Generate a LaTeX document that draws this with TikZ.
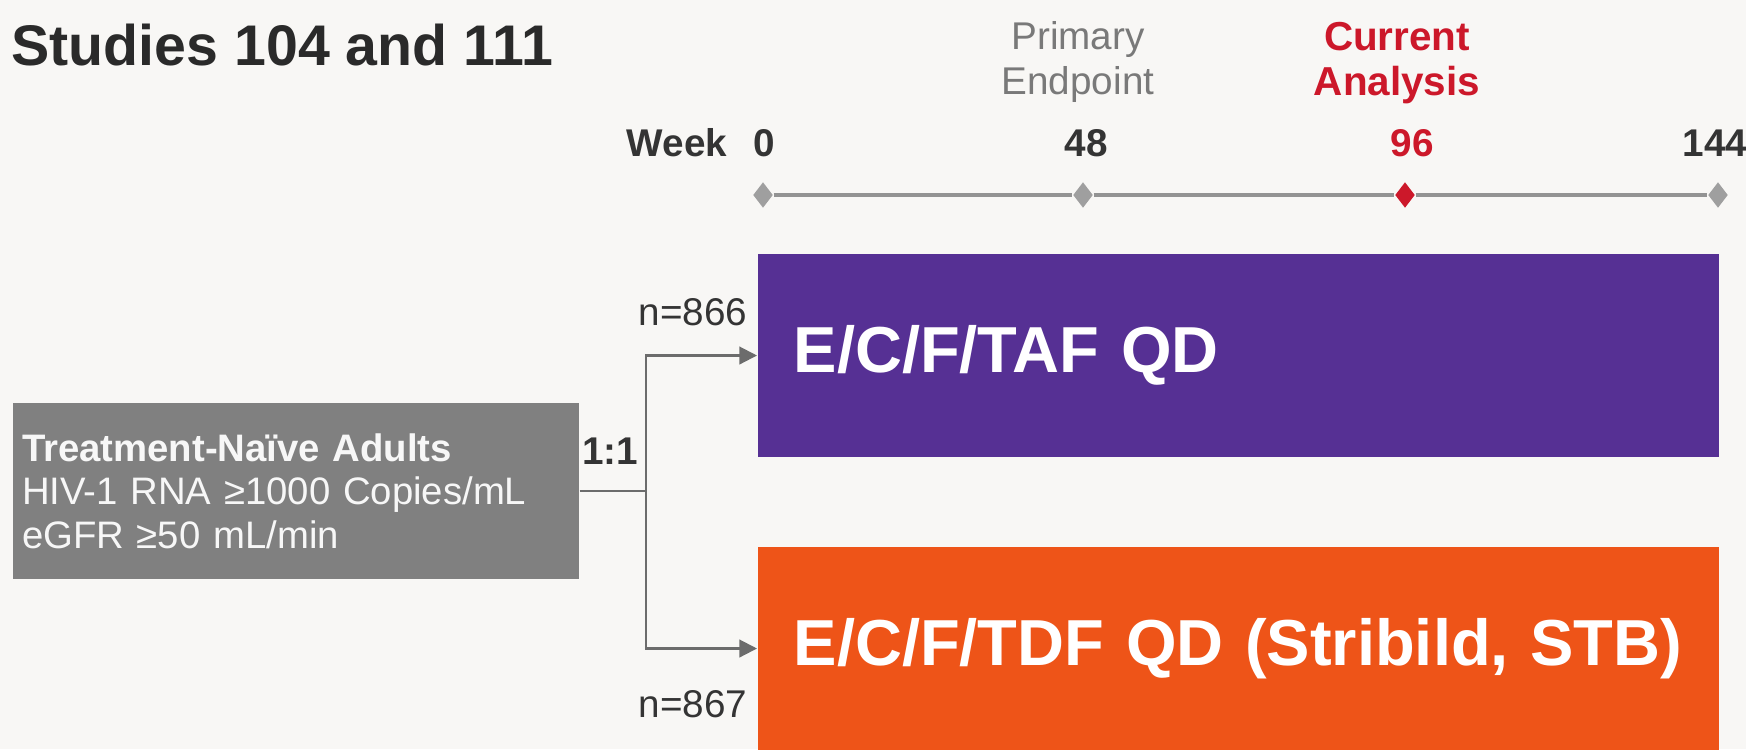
\documentclass[tikz,border=0pt]{standalone}
\usepackage{fontspec}
\setmainfont{Liberation Sans}
\usepackage{tikz}
\usetikzlibrary{shapes.geometric,arrows.meta}
\definecolor{armpurple}{RGB}{86,48,148}
\definecolor{armorange}{RGB}{238,84,24}
\definecolor{boxgray}{RGB}{128,128,128}
\definecolor{markred}{RGB}{204,24,42}
\definecolor{labelgray}{RGB}{52,52,52}
\definecolor{paper}{RGB}{248,247,245}

\begin{document}
\begin{tikzpicture}[
    arm/.style={rectangle, anchor=west, text=white, font=\fontsize{18.5}{22}\selectfont\bfseries,
                minimum height=2.03cm, inner xsep=0.36cm, text width=8.89cm, align=left},
    pop/.style={rectangle, fill=boxgray, text=white!94!gray, inner xsep=0.09cm,
                minimum height=1.76cm, text width=5.48cm, align=left,
                font=\fontsize{10.9}{12.4}\selectfont},
    tick/.style={diamond, fill=gray!75, minimum width=0.2cm, minimum height=0.26cm, inner sep=0pt},
    week/.style={font=\fontsize{11}{13}\selectfont\bfseries, text=labelgray},
    nlabel/.style={font=\fontsize{11}{13}\selectfont, text=labelgray},
    arrow/.style={-{Triangle[width=5pt,length=5pt]}, draw=gray!85!black, line width=0.6pt}
]
\fill[paper] (0,0) rectangle (17.46,7.49);
\useasboundingbox (0,0) rectangle (17.46,7.49);

% Title
\node[anchor=base west, font=\fontsize{16.3}{19}\selectfont\bfseries, text=labelgray!80!black, inner sep=0pt] (title) at (0.11,6.84) {Studies 104 and 111};

% Timeline
\node[tick] (w0)   at (7.63,5.54) {};
\node[tick] (w48)  at (10.83,5.54) {};
\node[tick, fill=markred] (w96) at (14.05,5.54) {};
\node[tick] (w144) at (17.18,5.54) {};
\draw[gray!85, line width=0.9pt] (w0) -- (w48) -- (w96) -- (w144);

\node[week] (wk)   at (6.77,6.06) {Week};
\node[week] (l0)   at (7.64,6.06) {0};
\node[week] (l48)  at (10.86,6.06) {48};
\node[week, text=markred] (l96) at (14.12,6.06) {96};
\node[week] (l144) at (17.15,6.06) {144};

\node[font=\fontsize{11}{12.8}\selectfont, text=gray!95!black, align=center] (prim) at (10.78,6.87) {Primary\\Endpoint};
\node[font=\fontsize{11.5}{12.8}\selectfont\bfseries, text=markred, align=center] (curr) at (13.97,6.86) {Current\\Analysis};

% Arms
\node[arm, fill=armpurple] (taf) at (7.57,3.935) {E/C/F/TAF QD};
\node[arm, fill=armorange] (tdf) at (7.57,1.005) {E/C/F/TDF QD (Stribild, STB)};
\node[pop] (naive) at (2.96,2.58) {\textbf{Treatment-Naïve Adults}\\HIV-1 RNA ≥1000 Copies/mL\\eGFR ≥50 mL/min};

% Randomisation
\coordinate (split) at (6.46,2.58);
\draw[gray!85!black, line width=0.6pt] (naive.east) -- (split);
\draw[arrow] (split) |- (taf.west);
\draw[arrow] (split) |- (tdf.west);
\node[font=\fontsize{11}{13}\selectfont\bfseries, text=labelgray] (ratio) at (6.10,2.98) {1:1};
\node[nlabel] (n1) at (6.93,4.37) {n=866};
\node[nlabel] (n2) at (6.93,0.45) {n=867};

\end{tikzpicture}
\end{document}
